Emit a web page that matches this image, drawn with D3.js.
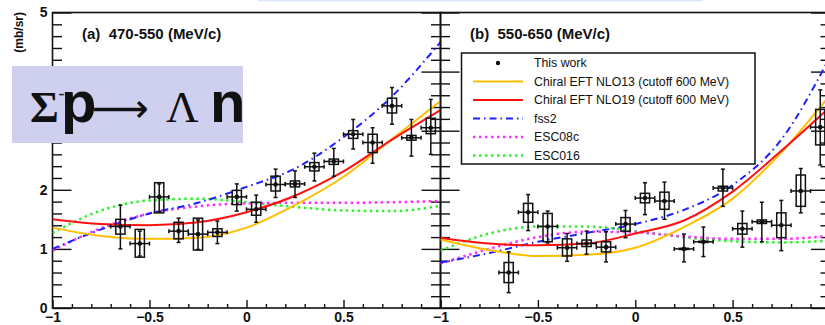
<!DOCTYPE html>
<html>
<head>
<meta charset="utf-8">
<script src="https://cdn.jsdelivr.net/npm/d3@7"></script>
<style>
body { margin: 0; background: #fff; }
svg { display: block; font-family: "Liberation Sans", Arial, sans-serif; }
</style>
</head>
<body>
<svg id="chart" width="825" height="325"></svg>
<script>
// theory curves, sampled in cos(theta)
var xGrid = [-1, -0.75, -0.5, -0.25, 0, 0.25, 0.5, 0.75, 1];

// (a) 470-550 MeV/c
var nlo13A  = [1.36, 1.22, 1.17, 1.19, 1.36, 1.74, 2.22, 2.86, 3.50];
var nlo19A  = [1.50, 1.42, 1.40, 1.45, 1.62, 1.90, 2.31, 2.85, 3.35];
var fss2A   = [1.00, 1.33, 1.60, 1.78, 2.05, 2.36, 2.89, 3.58, 4.50];
var esc08cA = [0.97, 1.35, 1.60, 1.72, 1.77, 1.78, 1.78, 1.79, 1.81];
var esc016A = [1.27, 1.65, 1.82, 1.85, 1.79, 1.71, 1.65, 1.64, 1.73];

// (b) 550-650 MeV/c
var nlo13B  = [1.16, 0.98, 0.88, 0.90, 1.02, 1.37, 1.85, 2.63, 3.60];
var nlo19B  = [1.19, 1.09, 1.06, 1.09, 1.26, 1.48, 1.97, 2.66, 3.40];
var fss2B   = [0.77, 0.93, 1.12, 1.27, 1.42, 1.66, 2.08, 2.85, 4.25];
var esc08cB = [0.75, 1.00, 1.20, 1.29, 1.28, 1.21, 1.17, 1.17, 1.22];
var esc016B = [0.97, 1.26, 1.38, 1.38, 1.30, 1.20, 1.13, 1.11, 1.14];

// measured points (this work)
var cosBins = [-0.65, -0.55, -0.45, -0.35, -0.25, -0.15, -0.05, 0.05, 0.15, 0.25, 0.35, 0.45, 0.55, 0.65, 0.75, 0.85, 0.95];
var binHalf = 0.05;

var valA    = [1.38, 1.09, 1.88, 1.30, 1.25, 1.28, 1.88, 1.67, 2.09, 2.10, 2.39, 2.48, 2.94, 2.80, 3.42, 2.88, 3.05];
var statLoA = [1.00, 0.88, 1.63, 1.11, 0.99, 1.09, 1.64, 1.45, 1.87, 1.87, 2.15, 2.23, 2.69, 2.45, 3.11, 2.57, 2.60];
var statHiA = [1.74, 1.30, 2.10, 1.52, 1.49, 1.47, 2.10, 1.91, 2.35, 2.32, 2.62, 2.70, 3.19, 3.05, 3.73, 3.19, 3.53];
var sysLoA  = [1.25, 0.86, 1.61, 1.17, 0.98, 1.21, 1.75, 1.57, 1.98, 2.05, 2.32, 2.43, 2.87, 2.63, 3.30, 2.84, 2.95];
var sysHiA  = [1.50, 1.33, 2.12, 1.45, 1.52, 1.34, 1.99, 1.79, 2.23, 2.15, 2.46, 2.52, 3.00, 2.94, 3.55, 2.92, 3.21];

var valB    = [0.60, 1.62, 1.38, 1.02, 1.09, 1.03, 1.42, 1.86, 1.81, 1.00, 1.12, 2.03, 1.34, 1.46, 1.40, 1.98, 3.06];
var statLoB = [0.26, 1.31, 1.10, 0.79, 0.91, 0.78, 1.19, 1.58, 1.50, 0.78, 0.87, 1.72, 1.03, 1.12, 0.97, 1.61, 2.42];
var statHiB = [0.95, 1.92, 1.64, 1.26, 1.30, 1.29, 1.65, 2.12, 2.13, 1.25, 1.37, 2.35, 1.64, 1.79, 1.82, 2.36, 3.69];
var sysLoB  = [0.43, 1.45, 1.12, 0.88, 1.04, 0.95, 1.30, 1.78, 1.67, 0.99, 1.11, 1.98, 1.25, 1.43, 1.19, 1.72, 2.76];
var sysHiB  = [0.77, 1.77, 1.60, 1.17, 1.15, 1.12, 1.53, 1.94, 1.96, 1.01, 1.13, 2.06, 1.43, 1.49, 1.61, 2.25, 3.36];

// axis ticks
var xTickVals = [-1, -0.5, 0, 0.5, 1];
var xTickText = ["\u22121", "\u22120.5", "0", "0.5", ""];
var yTickVals = [0, 1, 2, 3, 4, 5];
var yTickText = ["0", "1", "2", "3", "4", "5"];

var legendNames = ["This work", "Chiral EFT NLO13 (cutoff 600 MeV)", "Chiral EFT NLO19 (cutoff 600 MeV)", "fss2", "ESC08c", "ESC016"];

var styles = [
    {color: "#ffbf00", width: 2, dash: null},
    {color: "#ff1010", width: 2, dash: null},
    {color: "#2020ff", width: 2, dash: "7 4 1.5 4"},
    {color: "#ff30ff", width: 2.5, dash: "2.5 3.5"},
    {color: "#30ee30", width: 2.5, dash: "2.5 3.5"}
];

var svg = d3.select("#chart");

var plotTop = 12.5, plotBottom = 308;
var y = d3.scaleLinear().domain([0, 5]).range([plotBottom, plotTop]);

var panels = [
    {x: d3.scaleLinear().domain([-1, 1]).range([52.5, 440.5]), title: "(a)  470-550 (MeV/c)", titleX: 82,
     curves: [nlo13A, nlo19A, fss2A, esc08cA, esc016A],
     val: valA, statLo: statLoA, statHi: statHiA, sysLo: sysLoA, sysHi: sysHiA},
    {x: d3.scaleLinear().domain([-1, 1]).range([440.5, 830]), title: "(b)  550-650 (MeV/c)", titleX: 470,
     curves: [nlo13B, nlo19B, fss2B, esc08cB, esc016B],
     val: valB, statLo: statLoB, statHi: statHiB, sysLo: sysLoB, sysHi: sysHiB}
];

var xMinor = d3.range(-1, 1.0001, 0.1).filter(function(d) { return Math.abs(d * 2 - Math.round(d * 2)) > 1e-6; });
var yMinor = d3.range(0, 5.0001, 0.2).filter(function(d) { return Math.abs(d - Math.round(d)) > 1e-6; });

function styleAxis(g) {
    g.select(".domain").remove();
    g.selectAll("line").attr("stroke", "#111").attr("stroke-width", 1.4);
    g.selectAll("text").attr("font-family", "Liberation Sans, Arial, sans-serif")
        .attr("font-weight", "bold").attr("font-size", 14).attr("fill", "#111");
}

panels.forEach(function(p, pi) {
    var x = p.x;
    var x0 = x.range()[0], x1 = x.range()[1];

    svg.append("defs").append("clipPath").attr("id", "clip" + pi)
        .append("rect").attr("x", x0).attr("y", plotTop).attr("width", x1 - x0).attr("height", plotBottom - plotTop);

    // bottom axis
    svg.append("g").attr("transform", "translate(0," + plotBottom + ")")
        .call(d3.axisBottom(x).tickValues(xTickVals).tickSizeInner(-8).tickSizeOuter(0).tickPadding(4.5)
            .tickFormat(function(d, i) { return xTickText[i]; }))
        .call(styleAxis);
    svg.append("g").attr("transform", "translate(0," + plotBottom + ")")
        .call(d3.axisBottom(x).tickValues(xMinor).tickSizeInner(-4).tickSizeOuter(0).tickFormat(""))
        .call(styleAxis);

    // left axis, ticks pointing inward
    svg.append("g").attr("transform", "translate(" + x0 + ",0)")
        .call(d3.axisLeft(y).tickValues(yTickVals).tickSizeInner(-19).tickSizeOuter(0).tickPadding(5)
            .tickFormat(function(d, i) { return pi === 0 ? yTickText[i] : ""; }))
        .call(styleAxis);
    svg.append("g").attr("transform", "translate(" + x0 + ",0)")
        .call(d3.axisLeft(y).tickValues(yMinor).tickSizeInner(-9.5).tickSizeOuter(0).tickFormat(""))
        .call(styleAxis);

    // right axis
    svg.append("g").attr("transform", "translate(" + x1 + ",0)")
        .call(d3.axisRight(y).tickValues(yTickVals).tickSizeInner(-19).tickSizeOuter(0).tickFormat(""))
        .call(styleAxis);
    svg.append("g").attr("transform", "translate(" + x1 + ",0)")
        .call(d3.axisRight(y).tickValues(yMinor).tickSizeInner(-9.5).tickSizeOuter(0).tickFormat(""))
        .call(styleAxis);

    // frame
    svg.append("rect").attr("x", x0).attr("y", plotTop).attr("width", x1 - x0).attr("height", plotBottom - plotTop)
        .attr("fill", "none").attr("stroke", "#111").attr("stroke-width", 1.6);

    // theory curves
    var line = d3.line()
        .x(function(d, i) { return x(xGrid[i]); })
        .y(function(d) { return y(d); })
        .curve(d3.curveMonotoneX);
    var cg = svg.append("g").attr("clip-path", "url(#clip" + pi + ")");
    [4, 3, 2, 0, 1].forEach(function(k) {
        cg.append("path")
            .datum(p.curves[k])
            .attr("fill", "none")
            .attr("stroke", styles[k].color)
            .attr("stroke-width", styles[k].width)
            .attr("stroke-dasharray", styles[k].dash)
            .attr("d", line);
    });

    // data points
    var dg = svg.append("g").attr("stroke", "#111").attr("stroke-width", 1.5).attr("fill", "none");
    cosBins.forEach(function(c, i) {
        var cx = x(c), cy = y(p.val[i]);
        var xl = x(c - binHalf), xr = x(c + binHalf);
        var yt = y(p.statHi[i]), yb = y(p.statLo[i]);
        dg.append("line").attr("x1", xl).attr("x2", xr).attr("y1", cy).attr("y2", cy);
        dg.append("line").attr("x1", xl).attr("x2", xl).attr("y1", cy - 2).attr("y2", cy + 2);
        dg.append("line").attr("x1", xr).attr("x2", xr).attr("y1", cy - 2).attr("y2", cy + 2);
        dg.append("line").attr("x1", cx).attr("x2", cx).attr("y1", yt).attr("y2", yb);
        dg.append("line").attr("x1", cx - 2).attr("x2", cx + 2).attr("y1", yt).attr("y2", yt);
        dg.append("line").attr("x1", cx - 2).attr("x2", cx + 2).attr("y1", yb).attr("y2", yb);
        var st = y(p.sysHi[i]), sb = y(p.sysLo[i]);
        dg.append("rect").attr("x", cx - 4.6).attr("width", 9.2)
            .attr("y", st).attr("height", Math.max(sb - st, 0.8));
        dg.append("circle").attr("cx", cx).attr("cy", cy).attr("r", 2.3)
            .attr("fill", "#111").attr("stroke", "none");
    });

    svg.append("text").attr("x", p.titleX).attr("y", 39)
        .attr("font-weight", "bold").attr("font-size", 15).attr("fill", "#111")
        .style("white-space", "pre")
        .text(p.title);
});

// y title
svg.append("text")
    .attr("transform", "translate(22.5,12) rotate(-90)")
    .attr("text-anchor", "end")
    .attr("font-weight", "bold").attr("font-size", 12).attr("fill", "#111")
    .text("(mb/sr)");

// legend
var lg = svg.append("g");
lg.append("rect").attr("x", 461.5).attr("y", 53).attr("width", 293.5).attr("height", 111)
    .attr("fill", "#fff").attr("stroke", "#111").attr("stroke-width", 1.5);
legendNames.forEach(function(name, i) {
    var ry = 63 + i * 18.5;
    if (i === 0) {
        lg.append("circle").attr("cx", 498).attr("cy", ry).attr("r", 2.2).attr("fill", "#111");
    } else {
        var s = styles[i - 1];
        lg.append("line").attr("x1", 473).attr("x2", 523).attr("y1", ry).attr("y2", ry)
            .attr("stroke", s.color).attr("stroke-width", s.width).attr("stroke-dasharray", s.dash);
    }
    lg.append("text").attr("x", 534).attr("y", ry).attr("dy", "0.36em")
        .attr("font-size", 12.3).attr("fill", "#111").text(name);
});

// thin strip left over at the top
svg.append("rect").attr("x", 258).attr("y", 0).attr("width", 445).attr("height", 1.5).attr("fill", "#dfe7f7");

// reaction label
var bg = svg.append("g");
bg.append("rect").attr("x", 12).attr("y", 66).attr("width", 231).attr("height", 77).attr("fill", "#cfd0f0");
bg.append("text").attr("x", 30).attr("y", 122).attr("font-family", "Liberation Serif, serif")
    .attr("font-weight", "bold").attr("font-size", 44).attr("fill", "#111").text("\u03a3");
bg.append("text").attr("x", 58.5).attr("y", 100).attr("font-size", 18).attr("fill", "#111").text("-");
bg.append("text").attr("x", 61).attr("y", 122).attr("font-weight", "bold")
    .attr("font-size", 58).attr("fill", "#111").text("p");
bg.append("text").attr("x", 120.5).attr("y", 121.5).attr("text-anchor", "middle")
    .attr("font-family", "DejaVu Sans, sans-serif")
    .attr("font-size", 40).attr("fill", "#111").text("\u27f6");
bg.append("text").attr("x", 166).attr("y", 122).attr("font-family", "Liberation Serif, serif")
    .attr("font-size", 45).attr("fill", "#111").text("\u039b");
bg.append("text").attr("x", 210).attr("y", 122).attr("font-weight", "bold")
    .attr("font-size", 58).attr("fill", "#111").text("n");
</script>
</body>
</html>
